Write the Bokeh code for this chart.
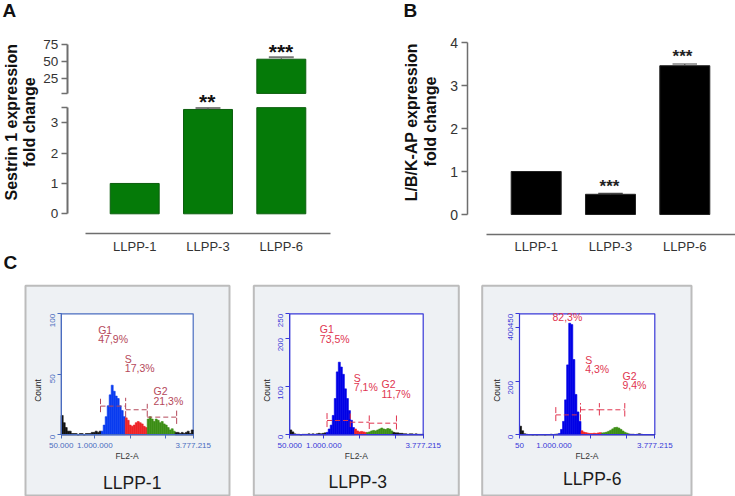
import math
from bokeh.plotting import figure
from bokeh.models import Range1d, LinearAxis, FixedTicker
from bokeh.core.properties import value
from bokeh.embed import file_html
from bokeh.resources import INLINE

W, H = 735, 496
FONT = "Liberation Sans"

# ---------- data ----------
categories = ["LLPP-1", "LLPP-3", "LLPP-6"]
sestrin_values = [1.0, 3.44, 53.8]
sestrin_err = [None, 3.49, 56.8]
sestrin_stars = ["", "**", "***"]
lbk_values = [1.0, 0.47, 3.46]
lbk_err = [None, 0.49, 3.50]
lbk_stars = ["", "***", "***"]
break_value = 3.5

bin_count = 66
x_min, x_max = 50000, 3777215

p1_debris_l = [16, 10, 6, 3, 3, 1, 1, 1, 0, 1, 1, 0, 1, 1, 1, 2, 2, 3, 2, 3]
p1_g1 = [3, 8, 15, 24, 33, 41, 36, 32, 30, 24, 20, 15]
p1_s = [14, 12, 8, 7, 8, 10, 11, 10, 9, 7, 6]
p1_g2 = [13, 15, 13, 11, 13, 12, 10, 11, 9, 8, 6, 4, 5, 3]
p1_debris_r = [2, 2, 1, 2, 1, 2, 3, 1, 4]

p2_debris_l = [10, 6, 2, 1, 1, 0, 1, 1, 1, 2, 1, 2, 1, 2, 3, 2, 3, 4]
p2_g1 = [5, 12, 20, 40, 75, 130, 150, 140, 125, 95, 75, 50, 30, 15]
p2_s = [12, 8, 6, 7, 6, 5]
p2_g2 = [5, 6, 8, 9, 8, 10, 12, 14, 12, 11, 13, 12, 8]
p2_debris_r = [5, 4, 4, 3, 3, 2, 2, 1, 2, 2, 1, 2, 1, 1, 1]

p3_debris_l = [32, 15, 4, 2, 1, 1, 0, 1, 0, 1, 1, 1, 0, 1, 1, 2, 1, 2, 3]
p3_g1 = [5, 20, 50, 130, 260, 415, 410, 280, 150, 85, 50]
p3_s = [15, 10, 8, 6, 5, 5, 6, 5, 7, 8]
p3_g2 = [7, 8, 10, 13, 17, 22, 27, 28, 25, 20, 14, 9, 6]
p3_debris_r = [3, 2, 2, 1, 2, 4, 2, 1, 1, 1, 1, 1, 1]

# ---------- canvas, each panel gets its own named ranges ----------
p = figure(width=W, height=H, x_range=Range1d(0, W), y_range=Range1d(H, 0),
           output_backend="svg", toolbar_location=None, min_border=0)
p.xaxis.visible = False
p.yaxis.visible = False
p.grid.visible = False
p.outline_line_color = None
p.background_fill_color = "white"
p.border_fill_color = "white"


def xr(name, px0, px1, v0, v1):
    s = (v1 - v0) / (px1 - px0)
    p.extra_x_ranges[name] = Range1d(start=v0 - px0 * s, end=v0 + (W - px0) * s)


def yr(name, px0, px1, v0, v1):
    s = (v1 - v0) / (px1 - px0)
    p.extra_y_ranges[name] = Range1d(start=v0 + (H - px0) * s, end=v0 - px0 * s)


def label(x, y, t, size, color="#222222", style="normal", angle=0, align="center"):
    p.text([x], [y], text=[t], text_font=value(FONT), text_font_size=f"{size}px",
           text_font_style=style, text_color=color, angle=angle,
           text_align=align, text_baseline="middle")


def yaxis(xname, yname, xloc, lo, hi, ticks, overrides=None, color="#6e6e6e", lw=2, size=13.5):
    a = LinearAxis(x_range_name=xname, y_range_name=yname, ticker=FixedTicker(ticks=ticks),
                   bounds=(lo, hi), fixed_location=xloc, axis_line_color=color,
                   axis_line_width=lw, major_tick_line_color=color, major_tick_line_width=1.5,
                   major_tick_in=0, major_tick_out=6, minor_tick_line_color=None,
                   major_label_text_font=FONT, major_label_text_font_size=f"{size}px",
                   major_label_text_color="#333333", major_label_standoff=3)
    if overrides:
        a.major_label_overrides = overrides
    p.add_layout(a, "left")
    return a


def catxaxis(xname, yname, yloc, lo, hi):
    a = LinearAxis(x_range_name=xname, y_range_name=yname,
                   ticker=FixedTicker(ticks=list(range(len(categories)))),
                   major_label_overrides={i: c for i, c in enumerate(categories)},
                   bounds=(lo, hi), fixed_location=yloc, axis_line_color="#6e6e6e",
                   axis_line_width=1.5, major_tick_line_color=None, minor_tick_line_color=None,
                   major_tick_in=0, major_tick_out=0,
                   major_label_text_font=FONT, major_label_text_font_size="13px",
                   major_label_text_color="#333333", major_label_standoff=5)
    p.add_layout(a, "below")


xpos = list(range(len(categories)))

# ---------- panel A (broken axis) ----------
xr("ax", 134.2, 280.8, 0, 2)
yr("ay", 213.3, 122.3, 0, 3)
yr("ayu", 78.3, 44.3, 25, 75)
GREEN = "#057a08"
p.vbar(x=xpos, width=0.668, bottom=0, top=[min(v, break_value) for v in sestrin_values],
       fill_color=GREEN, line_color="#0b5e0d", line_width=1, x_range_name="ax", y_range_name="ay")
up = [i for i, v in enumerate(sestrin_values) if v > break_value]
p.vbar(x=up, width=0.668, bottom=break_value, top=[sestrin_values[i] for i in up],
       fill_color=GREEN, line_color="#0b5e0d", line_width=1, x_range_name="ax", y_range_name="ayu")
p.segment(x0=[1], x1=[1], y0=[sestrin_values[1]], y1=[sestrin_err[1]], line_color="#555555",
          x_range_name="ax", y_range_name="ay")
p.segment(x0=[0.83], x1=[1.17], y0=[sestrin_err[1]], y1=[sestrin_err[1]], line_color="#555555",
          line_width=1.5, x_range_name="ax", y_range_name="ay")
p.segment(x0=[2], x1=[2], y0=[sestrin_values[2]], y1=[sestrin_err[2]], line_color="#555555",
          x_range_name="ax", y_range_name="ayu")
p.segment(x0=[1.83], x1=[2.17], y0=[sestrin_err[2]], y1=[sestrin_err[2]], line_color="#777777",
          line_width=2, x_range_name="ax", y_range_name="ayu")
yaxis("ax", "ay", -0.92, 0, break_value, [0, 1, 2, 3, break_value], {break_value: ""})
yaxis("ax", "ayu", -0.92, break_value, 75, [break_value, 25, 50, 75], {break_value: ""})
catxaxis("ax", "ay", -0.65, -0.667, 2.67)
label(206.7, 101, sestrin_stars[1], 21, "#111111", "bold")
label(280.5, 51, sestrin_stars[2], 21, "#111111", "bold")
label(10.5, 121.7, "Sestrin 1 expression", 16, "#111111", "bold", math.pi / 2)
label(29.2, 121.7, "fold change", 16, "#111111", "bold", math.pi / 2)
label(2, 10, "A", 19, "#111111", "bold", align="left")

# ---------- panel B ----------
xr("bx", 535.7, 684.3, 0, 2)
yr("by", 214, 42, 0, 4)
p.vbar(x=xpos, width=0.673, bottom=0, top=lbk_values, fill_color="#000000", line_color="#222222",
       line_width=1, x_range_name="bx", y_range_name="by")
for i in (1, 2):
    p.segment(x0=[i], x1=[i], y0=[lbk_values[i]], y1=[lbk_err[i]], line_color="#444444",
              x_range_name="bx", y_range_name="by")
    p.segment(x0=[i - 0.165], x1=[i + 0.165], y0=[lbk_err[i]], y1=[lbk_err[i]], line_color="#444444",
              line_width=1.2, x_range_name="bx", y_range_name="by")
yaxis("bx", "by", -0.93, 0, 4, [0, 1, 2, 3, 4], lw=1.5, size=14)
catxaxis("bx", "by", -0.46, -0.667, 2.68)
label(609, 186, lbk_stars[1], 17, "#222222", "bold")
label(682, 56, lbk_stars[2], 17, "#222222", "bold")
label(410.8, 121.7, "L/B/K-AP expression", 16, "#111111", "bold", math.pi / 2)
label(429.5, 121, "fold change", 16, "#111111", "bold", math.pi / 2)
label(403, 10, "B", 19, "#111111", "bold", align="left")
label(3, 262, "C", 19, "#111111", "bold", align="left")


# ---------- panel C ----------
def hist_panel(key, box, frame, ymax, ticks, xticklabel_lo, axc, txtc, parts, gates, texts, title, title_xy):
    bx0, bx1, by0, by1 = box
    fx0, fx1, fy0, fy1 = frame  # fy0 = top px, fy1 = bottom px
    p.quad(left=[bx0], right=[bx1], top=[by0], bottom=[by1], fill_color="#eef1f4",
           line_color="#bcbcbc", line_width=2)
    xname, yname = key + "x", key + "y"
    xr(xname, fx0, fx1, x_min, x_max)
    yr(yname, fy1, fy0, 0, ymax)
    p.quad(left=[x_min], right=[x_max], bottom=[0], top=[ymax], fill_color="white", line_color=axc,
           line_width=1.2, x_range_name=xname, y_range_name=yname)
    w = (x_max - x_min) / bin_count
    start = 0
    for counts, col in parts:
        xs = [x_min + (start + i + 0.5) * w for i in range(len(counts))]
        p.vbar(x=xs, width=w, bottom=0, top=counts, fill_color=col, line_color=col, line_width=0.6,
               x_range_name=xname, y_range_name=yname)
        start += len(counts)
    for gx0, gx1, gy, ends in gates:
        p.segment(x0=[gx0], x1=[gx1], y0=[gy], y1=[gy], line_color=txtc, line_width=1, line_dash="5 3",
                  x_range_name=xname, y_range_name=yname)
        for ex, ey0, ey1 in ends:
            p.segment(x0=[ex], x1=[ex], y0=[ey0], y1=[ey1], line_color=txtc, line_width=1, line_dash="6 2",
                      x_range_name=xname, y_range_name=yname)
    ax = LinearAxis(x_range_name=xname, y_range_name=yname,
                    ticker=FixedTicker(ticks=[x_min, 1000000, 2000000, 3000000, x_max]),
                    major_label_overrides={x_min: xticklabel_lo, 1000000: "1.000.000", 2000000: "",
                                           3000000: "", x_max: "3.777.215"},
                    bounds=(x_min, x_max), fixed_location=0, axis_line_color=axc,
                    major_tick_line_color=axc, major_tick_in=0, major_tick_out=4,
                    minor_tick_line_color=None, major_label_text_font=FONT,
                    major_label_text_font_size="8px", major_label_text_color=axc,
                    major_label_standoff=4)
    p.add_layout(ax, "below")
    ay = LinearAxis(x_range_name=xname, y_range_name=yname, ticker=FixedTicker(ticks=ticks),
                    bounds=(0, ymax), fixed_location=x_min, axis_line_color=axc,
                    major_tick_line_color=axc, major_tick_in=0, major_tick_out=4,
                    minor_tick_line_color=None, major_label_text_font=FONT,
                    major_label_text_font_size="8px", major_label_text_color=axc,
                    major_label_standoff=5, major_label_orientation=math.pi / 2)
    p.add_layout(ay, "left")
    label((fx0 + fx1) / 2 - 0.2, 455.3, "FL2-A", 8.5, "#333333")
    label(fx0 - 23, 390, "Count", 8.5, "#222222", "normal", math.pi / 2)
    for tx, ty, t in texts:
        label(tx, ty, t, 10.5, txtc, align="left")
    label(title_xy[0], title_xy[1], title, 17.5, "#1c1c1c")


BLACK, RED, GREEN2 = "#111111", "#ee2428", "#3d8f16"

# gate positions are read in data units (FL2-A, count)
p1_gates = [
    (1160000, 1870000, 23.7, [(1160000, 18.7, 29.8), (1870000, 14.6, 30.6)]),
    (1870000, 2480000, 20.7, [(2480000, 15, 25.6)]),
    (2480000, 3310000, 14.6, [(3310000, 9, 20)]),
]
p2_gates = [
    (1090000, 1740000, 29.6, [(1090000, 16, 45), (1740000, 16, 44)]),
    (1740000, 2270000, 26, [(2270000, 12, 40)]),
    (2270000, 3030000, 24, [(3030000, 11, 40)]),
]
p3_gates = [
    (1050000, 1730000, 74, [(1050000, 51, 103), (1730000, 53, 118)]),
    (1730000, 2250000, 93, [(2250000, 72, 118)]),
    (2250000, 2950000, 93, [(2950000, 68, 118)]),
]

hist_panel("c1", (25, 229, 285.3, 495), (60.7, 192.7, 313.3, 434.3), 100, [0, 50, 100], "50.000",
           "#4a6cc0", "#b5485a",
           [(p1_debris_l, BLACK), (p1_g1, "#0a3cf0"), (p1_s, RED), (p1_g2, GREEN2), (p1_debris_r, BLACK)],
           p1_gates,
           [(97.7, 329.3, "G1"), (97.7, 338.7, "47,9%"), (124.3, 358.3, "S"), (124.3, 367.7, "17,3%"),
            (153, 390.3, "G2"), (153, 400, "21,3%")],
           categories[0], (131.7, 482.3))
hist_panel("c2", (253.3, 458.3, 285.3, 495), (289.3, 422.7, 313.3, 434.3), 250, [0, 100, 200, 250], "50.000",
           "#3838d8", "#e0354f",
           [(p2_debris_l, BLACK), (p2_g1, "#0000e6"), (p2_s, RED), (p2_g2, GREEN2), (p2_debris_r, BLACK)],
           p2_gates,
           [(319.3, 328.7, "G1"), (319.3, 338.7, "73,5%"), (353.3, 377, "S"), (353.3, 386.7, "7,1%"),
            (381, 383.3, "G2"), (381, 393, "11,7%")],
           categories[1], (357.3, 481.7))
hist_panel("c3", (481.7, 691, 285.3, 495), (519, 654.3, 313.3, 434.3), 450, [0, 200, 400, 450], "50",
           "#3838d8", "#e0354f",
           [(p3_debris_l, BLACK), (p3_g1, "#0000e6"), (p3_s, RED), (p3_g2, GREEN2), (p3_debris_r, BLACK)],
           p3_gates,
           [(552, 316.7, "82,3%"), (584.7, 359.3, "S"), (584.7, 368.7, "4,3%"),
            (622, 375, "G2"), (622, 384.3, "9,4%")],
           categories[2], (591.7, 478.3))

open("out.html", "w").write(file_html(p, INLINE))
